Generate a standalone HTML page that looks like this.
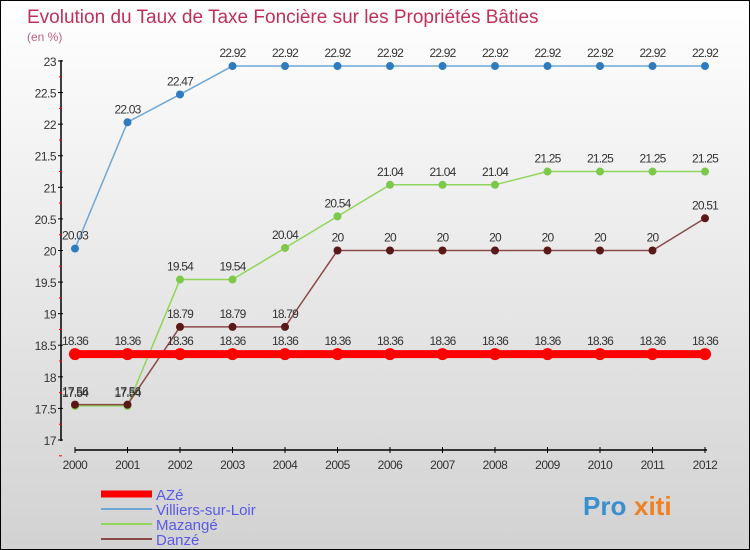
<!DOCTYPE html>
<html><head><meta charset="utf-8"><style>
body{margin:0}
#c{width:748px;height:548px;border:1px solid #000;background:linear-gradient(#ffffff,#d2d2d2);position:relative;font-family:"Liberation Sans",sans-serif;overflow:hidden}
</style></head><body>
<div id="c">
<svg id="s" width="748" height="548"></svg>
</div>
<script>
const years=[2000,2001,2002,2003,2004,2005,2006,2007,2008,2009,2010,2011,2012];
const aze=[18.36,18.36,18.36,18.36,18.36,18.36,18.36,18.36,18.36,18.36,18.36,18.36,18.36];
const villiers=[20.03,22.03,22.47,22.92,22.92,22.92,22.92,22.92,22.92,22.92,22.92,22.92,22.92];
const mazange=[17.54,17.54,19.54,19.54,20.04,20.54,21.04,21.04,21.04,21.25,21.25,21.25,21.25];
const danze=[17.56,17.56,18.79,18.79,18.79,20,20,20,20,20,20,20,20.51];
const yTicks=[17,17.5,18,18.5,19,19.5,20,20.5,21,21.5,22,22.5,23];
const NS="http://www.w3.org/2000/svg",s=document.getElementById('s');
function X(i){return 74+i*52.5}
function Y(v){return 439-(v-17)*63.17}
function el(t,a,txt){const e=document.createElementNS(NS,t);for(const k in a)e.setAttribute(k,a[k]);if(txt!==undefined)e.textContent=txt;s.appendChild(e);return e}
let t=el('text',{x:26,y:22,fill:'#c0305a','font-size':19},'Evolution du Taux de Taxe Foncière sur les Propriétés Bâties');

t=el('text',{x:26,y:40,fill:'#c0608a','font-size':12},'(en %)');

let a=el('line',{x1:60,y1:59,x2:60,y2:440,stroke:'#000','stroke-width':1.5});

a=el('line',{x1:74,y1:449,x2:706,y2:449,stroke:'#000','stroke-width':1.5});

yTicks.forEach(v=>{const y=Y(v);
 el('line',{x1:57,y1:y,x2:62,y2:y,stroke:'#000'});
 el('line',{x1:58,y1:y+15.8,x2:61,y2:y+15.8,stroke:'#f00'});
 const l=el('text',{x:55,y:y+5,'text-anchor':'end','font-size':12,fill:'#333','letter-spacing':-0.5},String(v));
 });
years.forEach((yr,i)=>{el('line',{x1:X(i),y1:446,x2:X(i),y2:452,stroke:'#000'});
 const l=el('text',{x:X(i),y:468,'text-anchor':'middle','font-size':12,fill:'#333','letter-spacing':-0.5},String(yr));
 });
function series(d,col,w,r,mcol,name){
 const p=el('polyline',{points:d.map((v,i)=>X(i)+','+Y(v)).join(' '),fill:'none',stroke:col,'stroke-width':w});
 
 d.forEach((v,i)=>{const c=el('circle',{cx:X(i),cy:Y(v),r:r,fill:mcol});
  
  const l=el('text',{x:X(i),y:Y(v)-9,'text-anchor':'middle','font-size':12,fill:'#333','letter-spacing':-0.8},String(v));
  });
}
series(villiers,'#6fa8d6',1.5,4,'#2e7bbf','villiers');
series(mazange,'#8fd65a',1.5,4,'#7cc84a','mazange');
series(danze,'#8b4a4a',1.5,4,'#5a1818','danze');
series(aze,'#f00',8,6,'#f00','aze');
const leg=[['AZé','#f00',7],['Villiers-sur-Loir','#6fa8d6',2],['Mazangé','#8fd65a',2],['Danzé','#8b4a4a',2]];
leg.forEach((g,i)=>{const y=493+i*15;
 const l=el('line',{x1:100,y1:y,x2:151,y2:y,stroke:g[1],'stroke-width':g[2]});
 
 const tx=el('text',{x:155,y:y+6,'font-size':15,fill:'#5a5ae8'},g[0]);
 });
const pr=el('text',{x:582,y:514,'font-size':26,'font-weight':'bold',fill:'#3a8fd0'},'Pro');

const pr2=el('text',{x:633,y:514,'font-size':26,'font-weight':'bold',fill:'#f08020'},'xiti');

</script>
</body></html>
